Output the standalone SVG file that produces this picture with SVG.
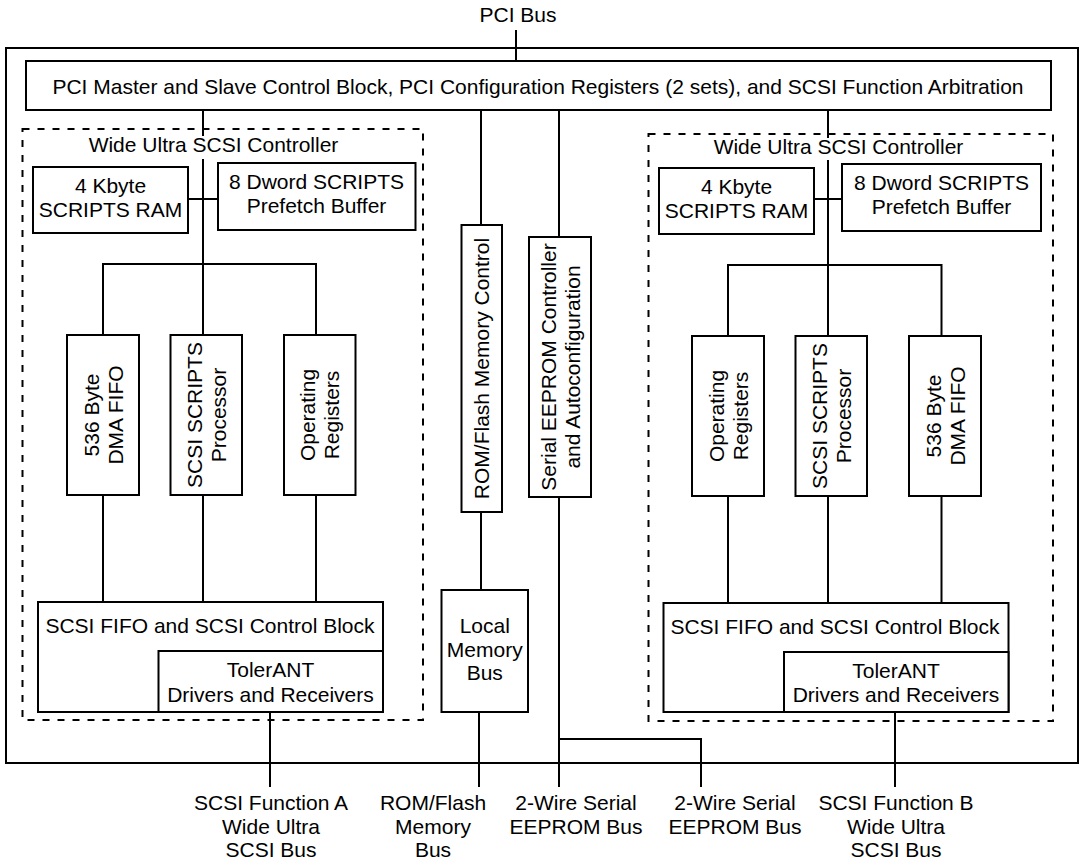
<svg xmlns="http://www.w3.org/2000/svg" width="1080" height="862" viewBox="0 0 1080 862">
<style>
  rect.b { fill: #fff; stroke: #000; stroke-width: 2; }
  rect.d { fill: none; stroke: #000; stroke-width: 2; stroke-dasharray: 7 8; }
  line, polyline { stroke: #000; stroke-width: 2; fill: none; }
  text { font-family: "Liberation Sans", Arial, sans-serif; font-size: 21px; fill: #000; text-anchor: middle; }
</style>
<rect width="1080" height="862" fill="#fff"/>

<g id="chip"><rect class="b" x="6" y="48" width="1072" height="715"/></g>
<g id="ctrlA"><rect class="d" x="22.5" y="129" width="400.5" height="591"/></g>
<g id="ctrlB"><rect class="d" x="648.5" y="134" width="404.5" height="587"/></g>

<g id="connectors">
  <line x1="516" y1="30" x2="516" y2="61"/>
  <!-- left controller -->
  <line x1="203" y1="110" x2="203" y2="136"/>
  <line x1="203" y1="159" x2="203" y2="335"/>
  <line x1="188" y1="199" x2="218" y2="199"/>
  <polyline points="103,335 103,264 316,264 316,335"/>
  <line x1="103" y1="495" x2="103" y2="602"/>
  <line x1="203" y1="495" x2="203" y2="602"/>
  <line x1="316" y1="495" x2="316" y2="602"/>
  <line x1="270" y1="712" x2="270" y2="787"/>
  <!-- right controller -->
  <line x1="828" y1="110" x2="828" y2="138"/>
  <line x1="828" y1="160" x2="828" y2="336"/>
  <line x1="814" y1="199" x2="842" y2="199"/>
  <polyline points="728,336 728,265 941.5,265 941.5,336"/>
  <line x1="728" y1="496" x2="728" y2="603"/>
  <line x1="828" y1="496" x2="828" y2="603"/>
  <line x1="941.5" y1="496" x2="941.5" y2="603"/>
  <line x1="895" y1="712" x2="895" y2="787"/>
  <!-- ROM / flash -->
  <line x1="481" y1="110" x2="481" y2="225"/>
  <line x1="481" y1="512" x2="481" y2="590"/>
  <line x1="479" y1="712" x2="479" y2="787"/>
  <!-- EEPROM -->
  <line x1="559" y1="110" x2="559" y2="237"/>
  <line x1="559" y1="497" x2="559" y2="787"/>
  <polyline points="559,739 701,739 701,787"/>
</g>

<g id="pci-bus-label"><text x="518" y="22">PCI Bus</text></g>

<g id="pci-block">
  <rect class="b" x="26" y="61" width="1025" height="49"/>
  <text x="538" y="93.5">PCI Master and Slave Control Block, PCI Configuration Registers (2 sets), and SCSI Function Arbitration</text>
</g>

<g id="ctrlA-title"><text x="213.5" y="152">Wide Ultra SCSI Controller</text></g>
<g id="ctrlB-title"><text x="838.5" y="154">Wide Ultra SCSI Controller</text></g>

<g id="ramA">
  <rect class="b" x="33" y="167" width="155" height="66"/>
  <text x="110.5" y="193">4 Kbyte</text>
  <text x="110.5" y="217">SCRIPTS RAM</text>
</g>
<g id="prefetchA">
  <rect class="b" x="218" y="163" width="197.5" height="67"/>
  <text x="316.5" y="189">8 Dword SCRIPTS</text>
  <text x="316.5" y="213">Prefetch Buffer</text>
</g>
<g id="dmaA">
  <rect class="b" x="67" y="335" width="72" height="160"/>
  <g transform="translate(103,415) rotate(-90)"><text x="0" y="-4.5">536 Byte</text><text x="0" y="19.5">DMA FIFO</text></g>
</g>
<g id="procA">
  <rect class="b" x="170.5" y="335" width="71.5" height="160"/>
  <g transform="translate(206,415) rotate(-90)"><text x="0" y="-4.5">SCSI SCRIPTS</text><text x="0" y="19.5">Processor</text></g>
</g>
<g id="regsA">
  <rect class="b" x="284" y="335" width="71.5" height="160"/>
  <g transform="translate(319.5,415) rotate(-90)"><text x="0" y="-4.5">Operating</text><text x="0" y="19.5">Registers</text></g>
</g>
<g id="scsiA">
  <rect class="b" x="38" y="602" width="345" height="110"/>
  <text x="210" y="633">SCSI FIFO and SCSI Control Block</text>
</g>
<g id="tolerantA">
  <rect class="b" x="158.5" y="651" width="224.5" height="61"/>
  <text x="270.5" y="677">TolerANT</text>
  <text x="270.5" y="701.5">Drivers and Receivers</text>
</g>

<g id="romctl">
  <rect class="b" x="461.5" y="225" width="40.5" height="287"/>
  <g transform="translate(481.75,368.5) rotate(-90)"><text x="0" y="7.5">ROM/Flash Memory Control</text></g>
</g>
<g id="eeprom">
  <rect class="b" x="529" y="237" width="62" height="260"/>
  <g transform="translate(560,367) rotate(-90)"><text x="0" y="-4.5">Serial EEPROM Controller</text><text x="0" y="19.5">and Autoconfiguration</text></g>
</g>
<g id="localmem">
  <rect class="b" x="441.5" y="590" width="86.5" height="122"/>
  <text x="484.75" y="633">Local</text>
  <text x="484.75" y="657">Memory</text>
  <text x="484.75" y="680">Bus</text>
</g>

<g id="ramB">
  <rect class="b" x="659" y="168" width="155" height="66"/>
  <text x="736.5" y="194">4 Kbyte</text>
  <text x="736.5" y="218">SCRIPTS RAM</text>
</g>
<g id="prefetchB">
  <rect class="b" x="842" y="164" width="199" height="67"/>
  <text x="941.5" y="190">8 Dword SCRIPTS</text>
  <text x="941.5" y="214">Prefetch Buffer</text>
</g>
<g id="regsB">
  <rect class="b" x="692" y="336" width="72" height="160"/>
  <g transform="translate(728,416) rotate(-90)"><text x="0" y="-4.5">Operating</text><text x="0" y="19.5">Registers</text></g>
</g>
<g id="procB">
  <rect class="b" x="795.5" y="336" width="71.5" height="160"/>
  <g transform="translate(831.25,416) rotate(-90)"><text x="0" y="-4.5">SCSI SCRIPTS</text><text x="0" y="19.5">Processor</text></g>
</g>
<g id="dmaB">
  <rect class="b" x="909" y="336" width="72" height="160"/>
  <g transform="translate(945,416) rotate(-90)"><text x="0" y="-4.5">536 Byte</text><text x="0" y="19.5">DMA FIFO</text></g>
</g>
<g id="scsiB">
  <rect class="b" x="663.5" y="603" width="345" height="109"/>
  <text x="835" y="633.5">SCSI FIFO and SCSI Control Block</text>
</g>
<g id="tolerantB">
  <rect class="b" x="784" y="652" width="224.5" height="60"/>
  <text x="896" y="677.5">TolerANT</text>
  <text x="896" y="702">Drivers and Receivers</text>
</g>

<g id="labels">
  <text x="271" y="810">SCSI Function A</text>
  <text x="271" y="834">Wide Ultra</text>
  <text x="271" y="857">SCSI Bus</text>
  <text x="433" y="810">ROM/Flash</text>
  <text x="433" y="834">Memory</text>
  <text x="433" y="857">Bus</text>
  <text x="576" y="810">2-Wire Serial</text>
  <text x="576" y="834">EEPROM Bus</text>
  <text x="735" y="810">2-Wire Serial</text>
  <text x="735" y="834">EEPROM Bus</text>
  <text x="896" y="810">SCSI Function B</text>
  <text x="896" y="834">Wide Ultra</text>
  <text x="896" y="857">SCSI Bus</text>
</g>
</svg>
